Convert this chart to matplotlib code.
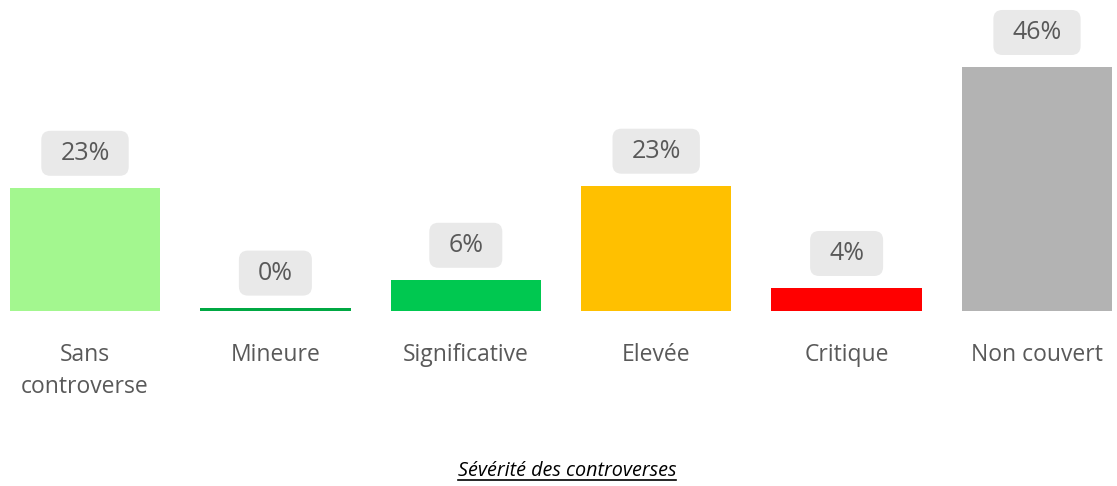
import matplotlib.pyplot as plt
from matplotlib.patches import FancyBboxPatch
from matplotlib.transforms import IdentityTransform

categories = ["Sans\ncontroverse", "Mineure", "Significative", "Elevée", "Critique", "Non couvert"]
values = [23.2, 0.6, 5.85, 23.6, 4.3, 46.0]
value_labels = ["23%", "0%", "6%", "23%", "4%", "46%"]
colors = ["#a3f78f", "#00a843", "#00c850", "#ffc000", "#ff0000", "#b3b3b3"]
title = "Sévérité des controverses"

plt.rcParams['font.family'] = ['Open Sans', 'DejaVu Sans']

fig = plt.figure(figsize=(11.17, 4.86), dpi=100)
ax = fig.add_axes([0, 0, 1, 1])
x_pos = list(range(len(categories)))
ax.bar(x_pos, values, width=0.79, color=colors)

px = 5.3  # pixels per percent
ax.set_xlim(-85 / 190.4, (1117 - 85) / 190.4)
ax.set_ylim(-(486 - 311) / px, 311 / px)
ax.axis('off')

labels = []
for x, v, lab in zip(x_pos, values, value_labels):
    t = ax.annotate(lab, (x, v), xytext=(0, 25), textcoords='offset points',
                    ha='center', va='center', fontsize=18, color='#595959', zorder=5)
    labels.append(t)

for x, cat in zip(x_pos, categories):
    ax.text(x, -(343 - 311) / px, cat, ha='center', va='top',
            fontsize=16.5, color='#595959', linespacing=1.42)

t = fig.text(567 / 1117, 1 - 471 / 486, title, ha='center', va='center',
             fontsize=14.2, style='italic', color='black')
fig.canvas.draw()

# rounded grey boxes behind the value labels
for lab in labels:
    bb = lab.get_window_extent()
    cx = (bb.x0 + bb.x1) / 2
    cy = (bb.y0 + bb.y1) / 2
    w = bb.width + 38
    h = 45
    box = FancyBboxPatch((cx - w / 2, cy - h / 2), w, h,
                         boxstyle='round,pad=0,rounding_size=9',
                         transform=IdentityTransform(), fc='#e9e9e9', ec='none', zorder=4)
    ax.add_patch(box)

bb = t.get_window_extent()
fig.add_artist(plt.Line2D([bb.x0 / fig.bbox.width, bb.x1 / fig.bbox.width],
                          [(bb.y0 + 1) / fig.bbox.height] * 2,
                          transform=fig.transFigure, color='black', lw=1.2))

fig.savefig("out.png", dpi=100)
